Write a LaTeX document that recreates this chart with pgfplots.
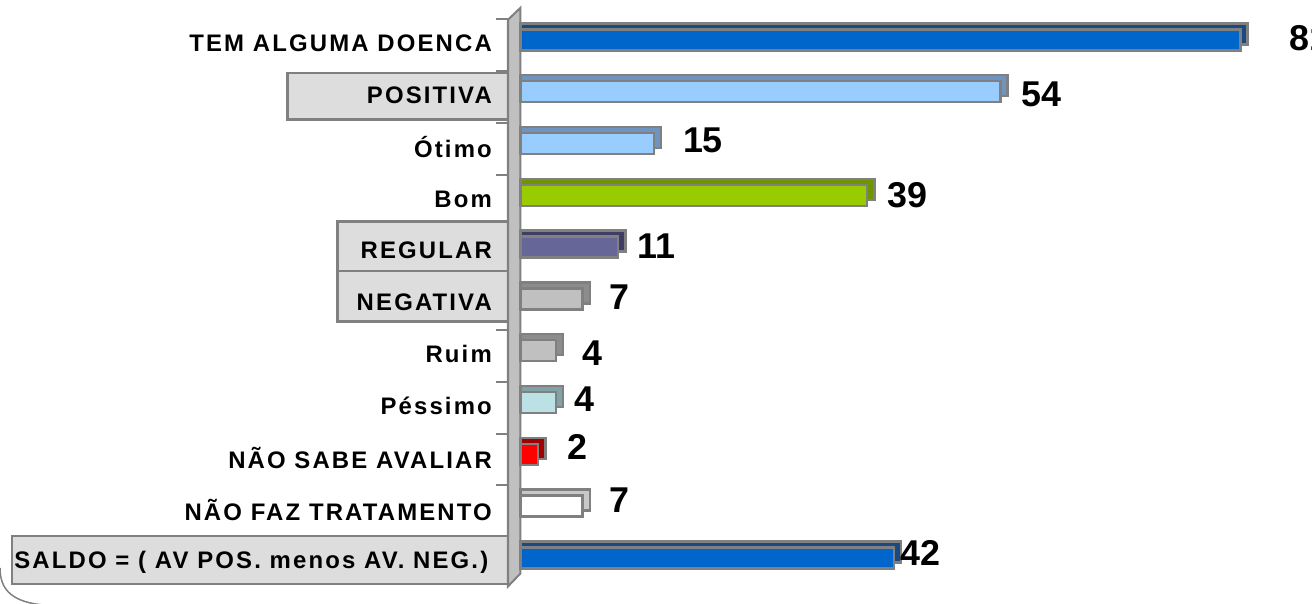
\documentclass[border=0pt]{standalone}
\usepackage{fontspec}
\setmainfont{Liberation Sans}
\usepackage{pgfplots}
\pgfplotsset{compat=1.18}
\definecolor{bord}{HTML}{808080}
\definecolor{wallc}{HTML}{C0C0C0}
\definecolor{boxc}{HTML}{DDDDDD}
\definecolor{blueF}{HTML}{0066CC}\definecolor{blueB}{HTML}{1A4A80}
\definecolor{lblueF}{HTML}{99CCFF}\definecolor{lblueB}{HTML}{6F94BF}
\definecolor{greenF}{HTML}{99CC00}\definecolor{greenB}{HTML}{6E9400}
\definecolor{purpF}{HTML}{666699}\definecolor{purpB}{HTML}{3D3D66}
\definecolor{grayF}{HTML}{C0C0C0}\definecolor{grayB}{HTML}{8C8C8C}
\definecolor{cyanF}{HTML}{BBE1E4}\definecolor{cyanB}{HTML}{7FA3A6}
\definecolor{redF}{HTML}{FF0000}\definecolor{redB}{HTML}{A00000}
\definecolor{whiteF}{HTML}{FFFFFF}\definecolor{whiteB}{HTML}{C8C8C8}
\newcommand{\catfont}{\fontsize{24}{28}\selectfont\bfseries\addfontfeature{LetterSpace=9}}
\newcommand{\valfont}{\fontsize{36}{42}\selectfont\bfseries}
\tikzset{lab/.style={anchor=east, inner sep=0pt, font=\catfont}}
\begin{document}
\begin{tikzpicture}
\useasboundingbox (0,0) rectangle (1312bp,604bp);
\clip (0,0) rectangle (1312bp,604bp);
\begin{axis}[
  at={(508bp,15bp)}, anchor=south west,
  x=8.89bp, y=51.8bp, y dir=reverse,
  xmin=-1.4, xmax=89.1, ymin=-0.62, ymax=10.6,
  clip=false,
  axis x line=none,
  axis y line*=left,
  y axis line style={draw=none},
  ytick={-0.4,0.6,1.6,2.6,3.6,4.6,5.6,6.6,7.6,8.6,9.6},
  yticklabels={},
  tick align=outside,
  major tick length=12bp,
  ytick style={draw=bord, line width=2bp},
  xbar, bar width=21bp, bar shift=0pt,
  /pgf/number format/assume math mode=true,
  every node near coord/.style={anchor=west, inner sep=0pt, font=\valfont, text=black},
  back/.style={draw=bord, line width=2.5bp, bar shift=6bp, x filter/.expression={x+0.8}},
  front/.style={draw=bord, line width=2.5bp, nodes near coords},
]
% label boxes
\draw[fill=boxc, draw=bord, line width=2.5bp] (axis cs:-26.2,0.64) rectangle (axis cs:-1.4,1.54);
\draw[fill=boxc, draw=bord, line width=2.5bp] (axis cs:-20.6,3.51) rectangle (axis cs:-1.4,4.46);
\draw[fill=boxc, draw=bord, line width=2.5bp] (axis cs:-20.6,4.46) rectangle (axis cs:-1.4,5.44);
\draw[fill=boxc, draw=bord, line width=2.5bp] (axis cs:-57.2,9.58) rectangle (axis cs:-1.4,10.5);
% wall
\draw[fill=wallc, draw=bord, line width=2bp] (axis cs:-1.4,-0.39) -- (axis cs:0,-0.62) -- (axis cs:0,10.3) -- (axis cs:-1.4,10.55) -- cycle;
% category labels
\node[lab] at (axis cs:-3.2,0.07) {TEM ALGUMA DOENCA};
\node[lab] at (axis cs:-3.2,1.07) {POSITIVA};
\node[lab] at (axis cs:-3.2,2.07) {Ótimo};
\node[lab] at (axis cs:-3.2,3.07) {Bom};
\node[lab] at (axis cs:-3.2,4.07) {REGULAR};
\node[lab] at (axis cs:-3.2,5.07) {NEGATIVA};
\node[lab] at (axis cs:-3.2,6.07) {Ruim};
\node[lab] at (axis cs:-3.2,7.07) {Péssimo};
\node[lab] at (axis cs:-3.2,8.07) {NÃO SABE AVALIAR};
\node[lab] at (axis cs:-3.2,9.07) {NÃO FAZ TRATAMENTO};
\node[lab] at (axis cs:-3.6,10.08) {SALDO = ( AV POS. menos AV. NEG.)};
% bars
\addplot[back, fill=blueB] coordinates {(81,0)};
\addplot[front, fill=blueF, every node near coord/.append style={xshift=48bp, yshift=2bp}] coordinates {(81,0)};
\addplot[back, fill=lblueB] coordinates {(54,1)};
\addplot[front, fill=lblueF, every node near coord/.append style={xshift=20bp, yshift=-3bp}] coordinates {(54,1)};
\addplot[back, fill=lblueB] coordinates {(15,2)};
\addplot[front, fill=lblueF, every node near coord/.append style={xshift=28bp, yshift=3bp}] coordinates {(15,2)};
\addplot[back, fill=greenB] coordinates {(39,3)};
\addplot[front, fill=greenF, every node near coord/.append style={xshift=19bp}] coordinates {(39,3)};
\addplot[back, fill=purpB] coordinates {(11,4)};
\addplot[front, fill=purpF, every node near coord/.append style={xshift=18bp, yshift=1bp}] coordinates {(11,4)};
\addplot[back, fill=grayB] coordinates {(7,5)};
\addplot[front, fill=grayF, every node near coord/.append style={xshift=26bp, yshift=2bp}] coordinates {(7,5)};
\addplot[back, fill=grayB] coordinates {(4,6)};
\addplot[front, fill=grayF, every node near coord/.append style={xshift=25bp, yshift=-2bp}] coordinates {(4,6)};
\addplot[back, fill=cyanB] coordinates {(4,7)};
\addplot[front, fill=cyanF, every node near coord/.append style={xshift=17bp, yshift=3bp}] coordinates {(4,7)};
\addplot[back, fill=redB] coordinates {(2,8)};
\addplot[front, fill=redF, every node near coord/.append style={xshift=28bp, yshift=7bp}] coordinates {(2,8)};
\addplot[back, fill=whiteB] coordinates {(7,9)};
\addplot[front, fill=whiteF, every node near coord/.append style={xshift=26bp, yshift=6bp}] coordinates {(7,9)};
\addplot[back, fill=blueB] coordinates {(42,10)};
\addplot[front, fill=blueF, every node near coord/.append style={xshift=5bp, yshift=5bp}] coordinates {(42,10)};
\end{axis}
\draw[bord, line width=1.5bp] (0,36bp) .. controls (0,12bp) and (15bp,2bp) .. (43bp,-1bp);
\end{tikzpicture}
\end{document}
